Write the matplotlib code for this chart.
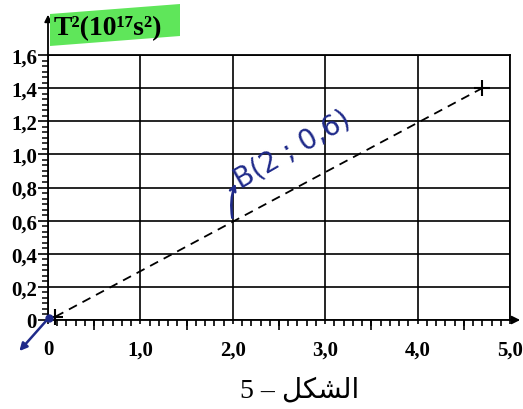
import matplotlib
matplotlib.use("Agg")
import matplotlib.pyplot as plt
from matplotlib.ticker import MultipleLocator, FixedLocator
from matplotlib.patches import Polygon
import numpy as np

# data
line_x = [0.08, 4.7]
line_y = [0.02, 1.4]
point_b = (2.0, 0.6)
x_ticks = [0, 1, 2, 3, 4, 5]
x_labels = ["0", "1,0", "2,0", "3,0", "4,0", "5,0"]
y_ticks = [0, 0.2, 0.4, 0.6, 0.8, 1.0, 1.2, 1.4, 1.6]
y_labels = ["0", "0,2", "0,4", "0,6", "0,8", "1,0", "1,2", "1,4", "1,6"]
y_title = "T²(10¹⁷s²)"
caption = "5 \u2013 " + "\ufede\ufedc\ufeb8\ufedf\ufe8d"   # الشكل - 5, shaped for LTR drawing
note_b = "B(2 ; 0,6)"

ink = "#1f2a8a"
green = "#5fe65a"
serif = ["Liberation Serif", "DejaVu Serif"]

W, H = 523, 410
fig = plt.figure(figsize=(W / 100, H / 100), dpi=100)
ax = fig.add_axes([48 / W, 1 - 321 / H, 462 / W, 265 / H])

ax.set_xlim(0, 5)
ax.set_ylim(0, 1.6)

# grid box
ax.xaxis.set_major_locator(FixedLocator(x_ticks))
ax.yaxis.set_major_locator(FixedLocator(y_ticks))
ax.grid(True, color="black", lw=1.2)
for s in ax.spines.values():
    s.set_linewidth(1.3)

ax.set_xticklabels(x_labels, family=serif, fontweight="bold", fontsize=15)
ax.set_yticklabels(y_labels, family=serif, fontweight="bold", fontsize=15)

ax.xaxis.set_minor_locator(MultipleLocator(0.1))
ax.yaxis.set_minor_locator(MultipleLocator(0.2 / 6))
ax.tick_params(axis="x", which="major", direction="out", length=3, width=1.2, pad=11)
ax.tick_params(axis="x", which="minor", direction="out", length=4, width=1.2)
ax.tick_params(axis="y", which="major", direction="out", length=7.5, width=1.2, pad=0.5)
ax.tick_params(axis="y", which="minor", direction="out", length=4, width=1.1)

# longer ticks at the half units
sec = ax.secondary_xaxis(0)
sec.set_xticks(np.arange(0.5, 5, 1.0))
sec.tick_params(direction="out", length=7, width=1.2, labelbottom=False)
sec.spines["bottom"].set_visible(False)

# axis arrows
ax.annotate("", xy=(5.14, 0), xytext=(4.99, 0), annotation_clip=False,
            arrowprops=dict(arrowstyle="-|>", color="black", lw=1.3, mutation_scale=12))
ax.annotate("", xy=(0, 1.86), xytext=(0, 1.59), annotation_clip=False,
            arrowprops=dict(arrowstyle="-|>", color="black", lw=1.3, mutation_scale=10))

# the dashed fit line
ax.plot(line_x, line_y, color="black", lw=1.3, ls=(0, (5, 3.5)),
        marker="+", ms=11, mew=1.5, clip_on=False, zorder=5)

# handwritten notes in blue ink
ax.annotate("", xy=(point_b[0] + 0.04, point_b[1] + 0.24), xytext=point_b,
            annotation_clip=False,
            arrowprops=dict(arrowstyle="->", color=ink, lw=1.8,
                            connectionstyle="arc3,rad=-0.15"))
ax.text(point_b[0] + 0.08, point_b[1] + 0.2, note_b, color=ink, fontsize=20,
        rotation=30, rotation_mode="anchor", ha="left", va="baseline",
        family="DejaVu Sans")
ax.plot([0.01], [0.01], marker="o", ms=5, color=ink, clip_on=False, zorder=6)
ax.annotate("", xy=(-0.33, -0.2), xytext=(0.02, 0.02), annotation_clip=False,
            arrowprops=dict(arrowstyle="-|>", color=ink, lw=1.8, mutation_scale=11))

# green highlight behind the y title
hl = Polygon([(50 / W, 1 - 15 / H), (180 / W, 1 - 5 / H),
              (180 / W, 1 - 37 / H), (50 / W, 1 - 47 / H)],
             closed=True, transform=fig.transFigure, facecolor=green,
             edgecolor="none", zorder=0)
fig.patches.append(hl)
fig.text(54 / W, 1 - 29 / H, y_title, family=serif, fontweight="bold",
         fontsize=20, va="center", ha="left")

fig.text(300 / W, 1 - 391 / H, caption, family=["Liberation Serif", "DejaVu Sans"],
         fontsize=20, ha="center", va="center")

fig.savefig("out.png", dpi=100)
